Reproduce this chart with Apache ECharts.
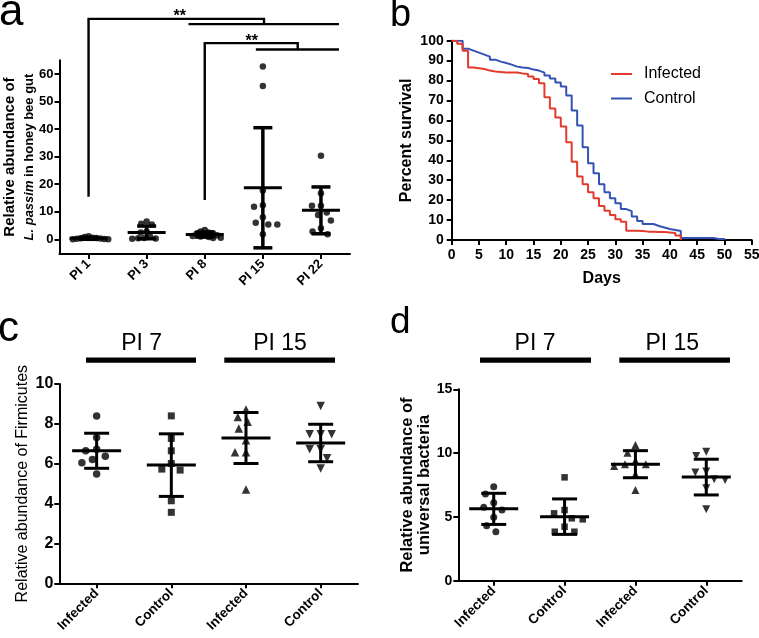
<!DOCTYPE html>
<html><head><meta charset="utf-8">
<script src="https://cdn.jsdelivr.net/npm/echarts@6/dist/echarts.min.js"></script>
<style>html,body{margin:0;padding:0;background:#fff}#c{width:759px;height:638px}</style>
</head><body><div id="c"></div>
<script>
// ---------- Panel a data ----------
const catsA = ['PI 1', 'PI 3', 'PI 8', 'PI 15', 'PI 22'];
const ptsA_PI1 = [1.1, 0.8, 0.6, 0.45, 0.35, 0.25, 0.2, 0.1, 0.05, 0.0];
const ptsA_PI3 = [6.5, 5.6, 5.4, 2.8, 2.5, 1.0, 0.5, 0.4, 0.3, 0.2];
const ptsA_PI8 = [3.4, 2.8, 2.5, 2.2, 2.0, 1.6, 1.5, 1.2, 1.0, 0.8, 0.6, 0.5];
const ptsA_PI15 = [62.7, 55.6, 17.7, 12.4, 11.8, 8.0, 6.0, 5.4, 5.4, 1.8];
const ptsA_PI22 = [30.3, 16.7, 12.2, 12.2, 9.7, 8.8, 6.8, 4.0, 2.8, 1.8];
const meanA = [0.35, 2.5, 1.7, 18.7, 10.5];
const sdA = [0.35, 2.3, 0.9, 21.8, 8.5];
const yTicksA = [0, 10, 20, 30, 40, 50, 60];
const sigA = ['**', '**'];

// ---------- Panel b data ----------
const daysInfected = [0,1,2,3,4,5,6,7,8,9,10,11,12,13,14,15,16,17,18,19,20,21,22,23,24,25,26,27,28,29,30,31,32,33,34,35,36,37,38,39,40,41,42];
const survInfected = [100,98.5,95,86.6,86.2,85.8,85,84.6,84.3,84,84,84,83.6,83.3,82,80.8,78.6,71.6,66,61.5,57,49,39.3,31.8,28,24,21,17,14.7,12.5,10.4,9.2,4.7,4.7,4.5,4.2,4.1,4,4,3.8,3.5,2.2,0];
const daysControl = [0,1,2,3,4,5,6,7,8,9,10,11,12,13,14,15,16,17,18,19,20,21,22,23,24,25,26,27,28,29,30,31,32,33,34,35,36,37,38,39,40,41,42,43,44,45,46,47,48,49,50];
const survControl = [100,100,96,95,94,93,92,90.5,89.5,88.8,88,87,86.5,86.3,85.5,85,84,82.5,81,79,77,72.5,65,57.5,46.5,38.5,33.5,28,24,21,18.5,15.5,14.5,11.8,9.5,8,8,7,6.3,5.5,5,4.5,1,1,1,1,1,1,0.5,0.5,0];
const seriesNamesB = ['Infected', 'Control'];

// ---------- Panels c / d data ----------
const catsCD = ['Infected', 'Control', 'Infected', 'Control'];
const groupsCD = ['PI 7', 'PI 15'];
const c_inf7 = [8.4, 7.32, 6.72, 6.65, 6.38, 6.21, 6.05, 5.48];
const c_con7 = [8.4, 7.27, 6.65, 6.01, 5.73, 5.68, 4.14, 3.56];
const c_inf15 = [8.72, 8.35, 8.1, 7.77, 7.18, 6.57, 6.57, 4.71];
const c_con15 = [8.9, 7.48, 7.48, 7.48, 6.72, 6.72, 6.27, 5.76];
const meanC = [6.65, 5.93, 7.29, 7.04];
const sdC = [0.88, 1.57, 1.28, 0.94];
const d_inf7 = [7.37, 6.8, 6.11, 5.75, 5.54, 4.97, 4.31, 3.84];
const d_con7 = [8.1, 5.54, 5.28, 4.89, 4.81, 4.23, 3.84, 3.84];
const d_inf15 = [10.63, 10.03, 9.4, 9.12, 9.12, 8.99, 8.34, 7.11];
const d_con15 = [10.11, 9.77, 8.55, 8.47, 7.95, 7.89, 7.24, 5.6];
const meanD = [5.63, 5.02, 9.13, 8.12];
const sdD = [1.22, 1.39, 1.06, 1.4];

// ---------- layout ----------
const FF = "'Liberation Sans', Arial, Helvetica, sans-serif";
const RED = '#e23b2e', BLUE = '#3452b4';
const GA = {left: 59.5, top: 60.2, width: 290.5, height: 193.7}, YA = [-5.3, 65];
const GB = {left: 451.7, top: 40.7, width: 300, height: 199.3};
const GC = {left: 59.3, top: 384, width: 298.7, height: 199.3}, YC = [0, 10];
const GD = {left: 458.3, top: 389.3, width: 283.4, height: 191.4}, YD = [0, 15];

function swarm(vals, pxu, d) {
  const placed = [];
  return vals.map(v => {
    const y = v * pxu;
    const iv = [];
    placed.forEach(p => {
      const dy = Math.abs(p.y - y);
      if (dy < d) { const dx = Math.sqrt(d * d - dy * dy); iv.push([p.x - dx, p.x + dx]); }
    });
    const cands = [0];
    iv.forEach(r => cands.push(r[0], r[1]));
    cands.sort((a, b) => (Math.abs(a) - Math.abs(b)) || (a - b));
    let x = 0;
    for (const c of cands) {
      if (iv.every(r => c <= r[0] + 1e-6 || c >= r[1] - 1e-6)) { x = c; break; }
    }
    placed.push({x, y});
    return x;
  });
}
function pts(cat, vals, pxu, d) {
  const off = swarm(vals, pxu, d);
  return vals.map((v, i) => ({value: [cat, v], symbolOffset: [off[i], 0]}));
}
const pxuA = GA.height / (YA[1] - YA[0]);
const pxuC = GC.height / (YC[1] - YC[0]);
const pxuD = GD.height / (YD[1] - YD[0]);

function errRender(capHalf, meanHalf, lwV, lwM) {
  return function (params, api) {
    const x = api.value(0), m = api.value(1), s = api.value(2);
    const pm = api.coord([x, m]), pt = api.coord([x, m + s]), pb = api.coord([x, m - s]);
    const sv = {stroke: '#000', lineWidth: lwV}, sm = {stroke: '#000', lineWidth: lwM};
    return {type: 'group', children: [
      {type: 'line', shape: {x1: pm[0], y1: pt[1], x2: pm[0], y2: pb[1]}, style: sv},
      {type: 'line', shape: {x1: pm[0] - capHalf, y1: pt[1], x2: pm[0] + capHalf, y2: pt[1]}, style: sv},
      {type: 'line', shape: {x1: pm[0] - capHalf, y1: pb[1], x2: pm[0] + capHalf, y2: pb[1]}, style: sv},
      {type: 'line', shape: {x1: pm[0] - meanHalf, y1: pm[1], x2: pm[0] + meanHalf, y2: pm[1]}, style: sm}
    ]};
  };
}

const axLine = w => ({show: true, onZero: false, lineStyle: {color: '#000', width: w}});
const tick = (len, extra) => Object.assign({show: true, length: len, lineStyle: {color: '#000', width: 2}}, extra || {});
const lab = (size, extra) => Object.assign({color: '#000', fontFamily: FF, fontSize: size, fontWeight: 'bold'}, extra || {});

function catX(grid, data, fs) {
  return {gridIndex: grid, type: 'category', data: data, boundaryGap: true,
    axisLine: axLine(2), axisTick: tick(5, {alignWithLabel: true}),
    axisLabel: lab(fs, {interval: 0, rotate: 45, margin: 8}), splitLine: {show: false}};
}

const option = {
  animation: false,
  backgroundColor: '#fff',
  grid: [
    Object.assign({containLabel: false, outerBoundsMode: 'none'}, GA),
    Object.assign({containLabel: false, outerBoundsMode: 'none'}, GB),
    Object.assign({containLabel: false, outerBoundsMode: 'none'}, GC),
    Object.assign({containLabel: false, outerBoundsMode: 'none'}, GD)
  ],
  xAxis: [
    catX(0, catsA, 13),
    {gridIndex: 1, type: 'value', min: 0, max: 55, interval: 5, axisLine: axLine(2), axisTick: tick(5),
      axisLabel: lab(14, {margin: 8}), splitLine: {show: false},
      name: 'Days', nameLocation: 'middle', nameGap: 31,
      nameTextStyle: {color: '#000', fontFamily: FF, fontSize: 16, fontWeight: 'bold'}},
    catX(2, catsCD, 13.5),
    catX(3, catsCD, 13.5)
  ],
  yAxis: [
    {gridIndex: 0, type: 'value', min: YA[0], max: YA[1], axisLine: axLine(2),
      axisTick: tick(5, {customValues: yTicksA}), axisLabel: lab(13, {customValues: yTicksA, margin: 6}),
      splitLine: {show: false},
      name: '{t|Relative abundance of}\n{i|L. passim}{s| in honey bee gut}', nameLocation: 'middle', nameRotate: 90, nameGap: 21,
      nameMoveOverlap: false,
      nameTextStyle: {color: '#000', fontFamily: FF, fontSize: 15, fontWeight: 'bold', lineHeight: 19,
        rich: {
          t: {fontWeight: 'bold', fontSize: 15, fontFamily: FF, color: '#000', lineHeight: 19},
          i: {fontStyle: 'italic', fontWeight: 'bold', fontSize: 13, fontFamily: FF, color: '#000', lineHeight: 19},
          s: {fontWeight: 'bold', fontSize: 13, fontFamily: FF, color: '#000', lineHeight: 19}}}},
    {gridIndex: 1, type: 'value', min: 0, max: 100, interval: 10, axisLine: axLine(2), axisTick: tick(5),
      axisLabel: lab(14, {margin: 8}), splitLine: {show: false},
      name: 'Percent survival', nameLocation: 'middle', nameRotate: 90, nameGap: 37,
      nameTextStyle: {color: '#000', fontFamily: FF, fontSize: 16, fontWeight: 'bold'}},
    {gridIndex: 2, type: 'value', min: YC[0], max: YC[1], interval: 2, axisLine: axLine(2), axisTick: tick(5),
      axisLabel: lab(16, {margin: 6}), splitLine: {show: false},
      name: 'Relative abundance of Firmicutes', nameLocation: 'middle', nameRotate: 90, nameGap: 29,
      nameTextStyle: {color: '#000', fontFamily: FF, fontSize: 16}},
    {gridIndex: 3, type: 'value', min: YD[0], max: YD[1], interval: 5, axisLine: axLine(2), axisTick: tick(5),
      axisLabel: lab(14, {margin: 6}), splitLine: {show: false},
      name: 'Relative abundance of\nuniversal bacteria', nameLocation: 'middle', nameRotate: 90, nameGap: 21,
      nameTextStyle: {color: '#000', fontFamily: FF, fontSize: 16.5, fontWeight: 'bold', lineHeight: 17}}
  ],
  legend: {
    data: seriesNamesB, orient: 'vertical', left: 611, top: 66, padding: 0, icon: 'rect', itemWidth: 21, itemHeight: 2,
    itemGap: 8.5, selectedMode: false,
    textStyle: {fontFamily: FF, fontSize: 16, color: '#000', padding: [0, 0, 0, 7]}
  },
  graphic: [
    {type: 'text', x: -1, y: 12.5, style: {text: 'a', font: '44px ' + FF, fill: '#000', verticalAlign: 'middle'}},
    {type: 'text', x: 390, y: 15.5, style: {text: 'b', font: '38px ' + FF, fill: '#000', verticalAlign: 'middle'}},
    {type: 'text', x: -2, y: 329, style: {text: 'c', font: '42px ' + FF, fill: '#000', verticalAlign: 'middle'}},
    {type: 'text', x: 390, y: 323, style: {text: 'd', font: '37px ' + FF, fill: '#000', verticalAlign: 'middle'}},
    {type: 'text', x: 141.7, y: 343.6, style: {text: groupsCD[0], font: '23px ' + FF, fill: '#000', align: 'center', verticalAlign: 'middle'}},
    {type: 'text', x: 280, y: 343.6, style: {text: groupsCD[1], font: '23px ' + FF, fill: '#000', align: 'center', verticalAlign: 'middle'}},
    {type: 'text', x: 535, y: 343.6, style: {text: groupsCD[0], font: '23px ' + FF, fill: '#000', align: 'center', verticalAlign: 'middle'}},
    {type: 'text', x: 672.3, y: 343.6, style: {text: groupsCD[1], font: '23px ' + FF, fill: '#000', align: 'center', verticalAlign: 'middle'}},
    {type: 'rect', shape: {x: 86, y: 357.4, width: 110, height: 5.3}, style: {fill: '#000'}},
    {type: 'rect', shape: {x: 224.3, y: 357.4, width: 110.7, height: 5.3}, style: {fill: '#000'}},
    {type: 'rect', shape: {x: 480, y: 357.4, width: 111, height: 5.3}, style: {fill: '#000'}},
    {type: 'rect', shape: {x: 619.3, y: 357.4, width: 110.7, height: 5.3}, style: {fill: '#000'}}
  ],
  series: []
};

// Panel a series
const ptsA = [ptsA_PI1, ptsA_PI3, ptsA_PI8, ptsA_PI15, ptsA_PI22];
const spreadA = [4, 6, 4.5, 9, 9];
ptsA.forEach((vals, i) => {
  option.series.push({type: 'scatter', name: 'a-' + catsA[i], xAxisIndex: 0, yAxisIndex: 0, symbol: 'circle', symbolSize: 6.5,
    itemStyle: {color: '#000'}, data: pts(i, vals, pxuA, spreadA[i]), z: 4});
});
option.series.push({type: 'custom', name: 'a-err', xAxisIndex: 0, yAxisIndex: 0, renderItem: errRender(9.5, 19, 3.5, 3),
  encode: {x: 0, y: 1}, data: meanA.map((m, i) => [i, m, sdA[i]]), z: 3});
// significance brackets: [fromCat, baseVal, topVal, toCat, dropVal, lineFromCat, lineToCat, starCat]
option.series.push({type: 'custom', name: 'a-sig', xAxisIndex: 0, yAxisIndex: 0, clip: false, z: 5,
  encode: {x: 0, y: 1},
  data: [[0, 15.4, 80, 3.02, 78.1, 1.72, 4.31, 1.57], [2, 14.3, 71.2, 3.6, 68.9, 2.88, 4.31, 2.81]],
  renderItem: function (params, api) {
    const v = k => api.value(k);
    const x0 = api.coord([0, 0])[0], x1 = api.coord([1, 0])[0];
    const cx = f => x0 + f * (x1 - x0);
    const cy = val => api.coord([0, val])[1];
    const st = {stroke: '#000', lineWidth: 2.4, fill: null};
    return {type: 'group', children: [
      {type: 'polyline', shape: {points: [[cx(v(0)), cy(v(1))], [cx(v(0)), cy(v(2))], [cx(v(3)), cy(v(2))], [cx(v(3)), cy(v(4))]]}, style: st},
      {type: 'line', shape: {x1: cx(v(5)), y1: cy(v(4)), x2: cx(v(6)), y2: cy(v(4))}, style: st},
      {type: 'text', x: cx(v(7)), y: cy(v(2)) - 2, style: {text: sigA[params.dataIndex], font: 'bold 16px ' + FF, fill: '#000', align: 'center', verticalAlign: 'middle'}}
    ]};
  }});

// Panel b
option.series.push({type: 'line', name: seriesNamesB[0], xAxisIndex: 1, yAxisIndex: 1, step: 'end', symbol: 'none',
  data: daysInfected.map((d, i) => [d, survInfected[i]]), lineStyle: {color: RED, width: 2}, itemStyle: {color: RED}, z: 3});
option.series.push({type: 'line', name: seriesNamesB[1], xAxisIndex: 1, yAxisIndex: 1, step: 'end', symbol: 'none',
  data: daysControl.map((d, i) => [d, survControl[i]]), lineStyle: {color: BLUE, width: 2}, itemStyle: {color: BLUE}, z: 2});

// Panels c, d
const shapes = [['circle', 0, 7.5], ['rect', 0, 7], ['triangle', 0, 8.5], ['triangle', 180, 8.5]];
[[c_inf7, c_con7, c_inf15, c_con15], [d_inf7, d_con7, d_inf15, d_con15]].forEach((groups, p) => {
  const ax = p === 0 ? 2 : 3, pxu = p === 0 ? pxuC : pxuD;
  groups.forEach((vals, i) => {
    option.series.push({type: 'scatter', name: (p ? 'd-' : 'c-') + catsCD[i] + ' ' + groupsCD[i >> 1], xAxisIndex: ax, yAxisIndex: ax,
      symbol: shapes[i][0], symbolRotate: shapes[i][1], symbolSize: shapes[i][2] - p * 0.5,
      itemStyle: {color: '#000'}, data: pts(i, vals, pxu, 11), z: 4});
  });
  const mean = p === 0 ? meanC : meanD, sd = p === 0 ? sdC : sdD;
  option.series.push({type: 'custom', name: (p ? 'd' : 'c') + '-err', xAxisIndex: ax, yAxisIndex: ax,
    renderItem: errRender(12.5, 24.5, 3, 3), encode: {x: 0, y: 1}, data: mean.map((m, i) => [i, m, sd[i]]), z: 3});
});

const chart = echarts.init(document.getElementById('c'), null, {renderer: 'canvas', width: 759, height: 638});
chart.setOption(option);
</script></body></html>
